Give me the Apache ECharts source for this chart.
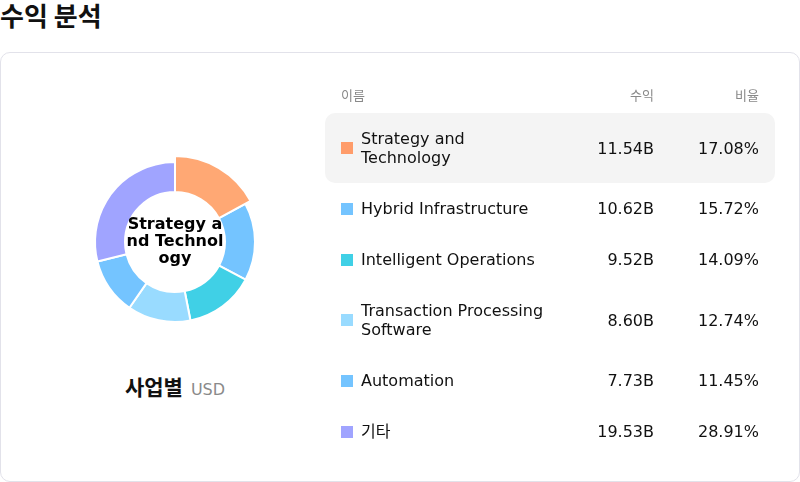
<!DOCTYPE html>
<html>
<head>
<meta charset="utf-8">
<script src="https://cdn.jsdelivr.net/npm/echarts@6/dist/echarts.min.js"></script>
<style>
  html, body { margin: 0; padding: 0; background: #fff; }
  body { width: 800px; height: 482px; position: relative; overflow: hidden;
         font-family: "DejaVu Sans", "Noto Sans CJK KR", sans-serif; color: #111; }
  #title { position: absolute; left: 0; top: -1px; font-size: 26px; font-weight: bold; line-height: 32px;
           font-family: "Noto Sans CJK KR", sans-serif; }
  #card { position: absolute; left: 0; top: 52px; width: 798px; height: 428px;
          border: 1px solid #e2e2ea; border-radius: 10px; }
  #chart { position: absolute; left: 0; top: 52px; width: 350px; height: 300px; }
  #caption { position: absolute; left: 0; width: 350px; top: 371px; text-align: center; line-height: 30px; }
  #caption b { font-size: 21px; font-family: "Noto Sans CJK KR", sans-serif; }
  #caption span { font-size: 16px; color: #8a8a8a; margin-left: 8px; }
  #table { position: absolute; left: 325px; top: 85px; width: 450px; }
  .head { display: flex; font-size: 13px; color: #888; height: 20px; line-height: 20px;
          padding: 0 16px; margin-bottom: 8px; font-family: "Noto Sans CJK KR", sans-serif; }
  .row { display: flex; align-items: center; padding: 16px; font-size: 16px; line-height: 19px;
         border-radius: 10px; }
  .row.on { background: #f4f4f4; }
  .sq { width: 12px; height: 12px; margin-right: 8px; flex: none; }
  .nm { width: 195px; flex: none; }
  .hn { width: 215px; flex: none; }
  .v { width: 98px; text-align: right; flex: none; }
  .p { width: 105px; text-align: right; flex: none; }
</style>
</head>
<body>
<div id="title">수익 분석</div>
<div id="card"></div>
<div id="chart"></div>
<div id="caption"><b>사업별</b><span>USD</span></div>
<div id="table"></div>
<script>
// 사업부문별 수익 (단위: B USD)
var names = ['Strategy and Technology', 'Hybrid Infrastructure', 'Intelligent Operations',
             'Transaction Processing Software', 'Automation', '기타'];
var revenue = [11.54, 10.62, 9.52, 8.60, 7.73, 19.53];
var share = [17.08, 15.72, 14.09, 12.74, 11.45, 28.91];
var headers = ['이름', '수익', '비율'];

var colors = ['#FF9C6A', '#74C4FF', '#40D0E6', '#99DBFF', '#74C4FF', '#A0A4FF'];

// 표
var html = '<div class="head"><div class="hn">' + headers[0] + '</div><div class="v">' + headers[1] +
           '</div><div class="p">' + headers[2] + '</div></div>';
for (var i = 0; i < names.length; i++) {
    html += '<div class="row' + (i == 0 ? ' on' : '') + '">' +
            '<div class="sq" style="background:' + colors[i] + '"></div>' +
            '<div class="nm">' + names[i] + '</div>' +
            '<div class="v">' + revenue[i].toFixed(2) + 'B</div>' +
            '<div class="p">' + share[i].toFixed(2) + '%</div></div>';
}
document.getElementById('table').innerHTML = html;

// 도넛 차트
var myChart = echarts.init(document.getElementById('chart'));
var option = {
    animation: false,
    color: colors,
    series: [
        {
            type: 'pie',
            center: [175, 190],
            radius: [50, 80],
            startAngle: 90,
            itemStyle: { borderColor: '#fff', borderWidth: 2 },
            label: {
                show: false,
                position: 'center',
                width: 102,
                overflow: 'breakAll',
                fontFamily: 'DejaVu Sans',
                fontSize: 16,
                lineHeight: 17,
                fontWeight: 'bold',
                color: '#000'
            },
            labelLine: { show: false },
            emphasis: {
                scale: true,
                scaleSize: 6,
                itemStyle: { color: '#FFA874' },
                label: { show: true, formatter: '{b}' }
            },
            data: names.map(function (n, i) {
                return { name: n, value: revenue[i] };
            })
        }
    ]
};
myChart.setOption(option);
myChart.dispatchAction({ type: 'highlight', seriesIndex: 0, dataIndex: 0 });
</script>
</body>
</html>
